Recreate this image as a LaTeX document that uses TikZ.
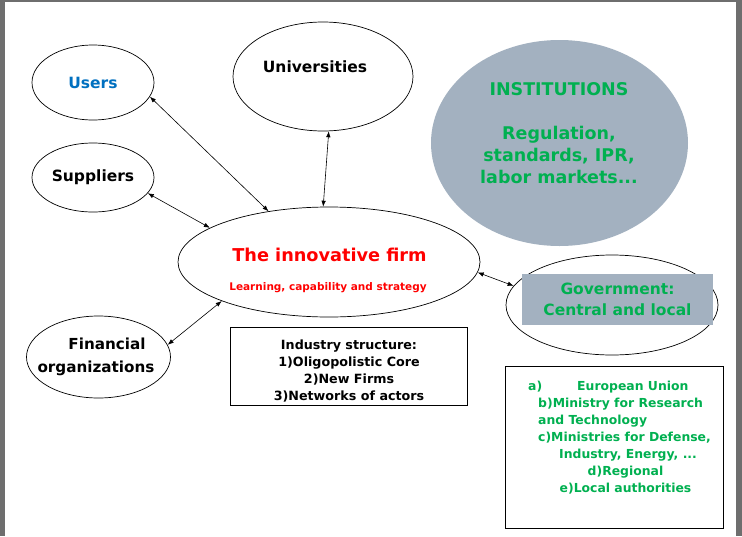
\documentclass[tikz,border=0pt]{standalone}
\usepackage{fontspec}
\setmainfont{DejaVu Sans}
\usetikzlibrary{shapes.geometric,arrows.meta}
\definecolor{instgray}{HTML}{A3B1C0}
\definecolor{grn}{HTML}{00B050}
\definecolor{usrblue}{HTML}{0070C0}
\definecolor{framegray}{HTML}{6E6E6E}
\begin{document}
\begin{tikzpicture}[x=1pt,y=-1pt,
  oval/.style={ellipse,draw=black,line width=0.7pt,inner sep=0pt,align=center},
  lbl/.style={inner sep=0pt,align=center},
  link/.style={{Latex[length=6pt,width=4.5pt]}-{Latex[length=6pt,width=4.5pt]},line width=0.6pt},
  boxed/.style={draw=black,line width=0.8pt,inner sep=0pt,rectangle}]
\useasboundingbox (0,0) rectangle (742,536);
\fill[framegray] (0,0) rectangle (742,536);
\fill[white] (5,1.5) rectangle (736,536);

% ellipses
\node[oval,minimum width=122pt,minimum height=75pt,text=usrblue,font=\bfseries\fontsize{15.5}{18}\selectfont] (users) at (93,82.5) {Users};
\node[oval,minimum width=122pt,minimum height=69pt,font=\bfseries\fontsize{15.5}{18}\selectfont] (suppliers) at (93,177.5) {Suppliers};
\node[oval,minimum width=180pt,minimum height=109pt] (univ) at (323,76.5) {};
\node[lbl,font=\bfseries\fontsize{15.5}{18}\selectfont] (univtext) at (315,67) {Universities};
\node[ellipse,fill=instgray,inner sep=0pt,minimum width=257pt,minimum height=206pt] (inst) at (559.5,143) {};
\node[lbl,text=grn,font=\bfseries\fontsize{17.5}{22}\selectfont] (insttext) at (559,133) {INSTITUTIONS\\[22pt]Regulation,\\standards, IPR,\\labor markets...};
\node[oval,minimum width=302pt,minimum height=110pt] (firm) at (329,262) {};
\node[lbl,text=red,font=\bfseries\fontsize{17.7}{21}\selectfont] (firmtitle) at (329.5,255) {The innovative firm};
\node[lbl,text=red,font=\bfseries\fontsize{10.5}{12}\selectfont] (firmsub) at (328,288) {Learning, capability and strategy};
\node[oval,minimum width=144pt,minimum height=82pt] (fin) at (98.5,357) {};
\node[lbl,font=\bfseries\fontsize{15.2}{23}\selectfont] (fintext) at (96,356.5) {\hspace*{22pt}Financial\\organizations};
\node[oval,minimum width=212pt,minimum height=100pt] (gov) at (612,305) {};
\node[rectangle,fill=instgray,inner sep=0pt,minimum width=191pt,minimum height=51pt,text=grn,align=center,font=\bfseries\fontsize{15.5}{21}\selectfont] (govlabel) at (617.5,299.5) {Government:\\Central and local};

% boxes
\node[boxed,minimum width=237pt,minimum height=78pt] (ind) at (348.5,366) {};
\node[lbl,font=\bfseries\fontsize{12.7}{17}\selectfont] (indtext) at (349,371.5) {Industry structure:\\1)Oligopolistic Core\\2)New Firms\\3)Networks of actors};
\node[boxed,minimum width=218pt,minimum height=162pt] (list) at (614,447) {};
\begin{scope}[every node/.style={inner sep=0pt,text=grn,font=\bfseries\fontsize{12.4}{17}\selectfont}]
\node[anchor=west] (la) at (528,387) {a)};
\node[anchor=west] (la2) at (577,387) {European Union};
\node[anchor=west] (lb) at (538,404) {b)Ministry for Research};
\node[anchor=west] (lb2) at (538,421) {and Technology};
\node[anchor=west] (lc) at (538,438) {c)Ministries for Defense,};
\node[anchor=west] (lc2) at (559,455) {Industry, Energy, ...};
\node (ld) at (625.5,472) {d)Regional};
\node (le) at (625.5,489) {e)Local authorities};
\end{scope}

% connectors
\draw[link] (users.-14.5) -- (firm.140);
\draw[link] (suppliers.-16.7) -- (firm.164.3);
\draw[link] (univ.-84) -- (firm.96);
\draw[link] (fin.10.3) -- (firm.-160.8);
\draw[link] (firm.-4.5) -- (gov.169);
\end{tikzpicture}
\end{document}
